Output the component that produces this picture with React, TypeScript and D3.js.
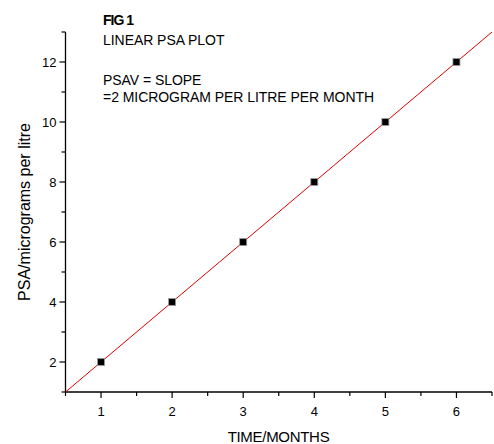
import React, { useEffect, useRef } from 'react';
import * as d3 from 'd3';

const months = [1, 2, 3, 4, 5, 6];
const psa = [2, 4, 6, 8, 10, 12];
const slope = 2;
const titleLines = ['LINEAR PSA PLOT', '', 'PSAV = SLOPE', '=2 MICROGRAM PER LITRE PER MONTH'];

const W = 494, H = 444;

const App = () => {
  const svgRef = useRef<SVGSVGElement>(null);

  useEffect(() => {
    const svg = d3.select(svgRef.current);
    svg.selectAll('*').remove();
    const font = 'Liberation Sans, Arial, sans-serif';

    const x = d3.scaleLinear().domain([0.5, 6.5]).range([65.5, 492]);
    const y = d3.scaleLinear().domain([1, 13]).range([392, 32]);

    const g = svg.append('g');

    // x axis
    const xa = g.append('g').attr('transform', `translate(0,${y(1)})`);
    xa.append('line').attr('x1', x(0.5)).attr('x2', x(6.5)).attr('stroke', '#000').attr('stroke-width', 1.3);
    d3.range(0.5, 6.51, 0.5).forEach(v => {
      const major = Number.isInteger(v);
      xa.append('line').attr('x1', x(v)).attr('x2', x(v)).attr('y1', 0).attr('y2', major ? 6 : 4)
        .attr('stroke', '#000').attr('stroke-width', 1.2);
    });
    months.forEach(v => {
      xa.append('text').attr('x', x(v)).attr('y', 24).attr('text-anchor', 'middle')
        .attr('font-family', font).attr('font-size', 13).text(v);
    });

    // y axis
    const ya = g.append('g').attr('transform', `translate(${x(0.5)},0)`);
    ya.append('line').attr('y1', y(1)).attr('y2', y(13)).attr('stroke', '#000').attr('stroke-width', 1.3);
    d3.range(1, 13.01, 1).forEach(v => {
      const major = v % 2 === 0;
      ya.append('line').attr('y1', y(v)).attr('y2', y(v)).attr('x1', 0).attr('x2', major ? -6 : -4)
        .attr('stroke', '#000').attr('stroke-width', 1.2);
    });
    psa.forEach(v => {
      ya.append('text').attr('x', -9).attr('y', y(v)).attr('dy', '0.36em').attr('text-anchor', 'end')
        .attr('font-family', font).attr('font-size', 13).text(v);
    });

    // fit line
    g.append('line')
      .attr('x1', x(0.5)).attr('y1', y(slope * 0.5))
      .attr('x2', x(6.5)).attr('y2', y(slope * 6.5))
      .attr('stroke', '#e00000').attr('stroke-width', 1);

    // points
    g.selectAll('rect.pt').data(months).enter().append('rect')
      .attr('class', 'pt')
      .attr('x', (d) => x(d) - 3.5).attr('y', (d, i) => y(psa[i]) - 3.5)
      .attr('width', 7).attr('height', 7)
      .attr('fill', '#000').attr('stroke', '#999').attr('stroke-width', 0.8);

    // axis titles
    g.append('text').attr('x', 278.5).attr('y', 442).attr('text-anchor', 'middle')
      .attr('font-family', font).attr('font-size', 15).attr('letter-spacing', -0.3).text('TIME/MONTHS');
    g.append('text').attr('transform', 'translate(30,212) rotate(-90)').attr('text-anchor', 'middle')
      .attr('font-family', font).attr('font-size', 16).text('PSA/micrograms per litre');

    // annotation
    g.append('text').attr('x', 103).attr('y', 25).attr('font-family', font).attr('font-size', 14)
      .attr('font-weight', 'bold').attr('letter-spacing', -1).text('FIG 1');
    titleLines.forEach((t, i) => {
      if (!t) return;
      g.append('text').attr('x', 103).attr('y', 45 + i * 20 - (i === 3 ? 3 : 0)).attr('font-family', font)
        .attr('font-size', 14).attr('letter-spacing', -0.05).text(t);
    });
  }, []);

  return <svg ref={svgRef} width={W} height={H} style={{ position: 'absolute', left: 0, top: 0 }} />;
};

export default App;
